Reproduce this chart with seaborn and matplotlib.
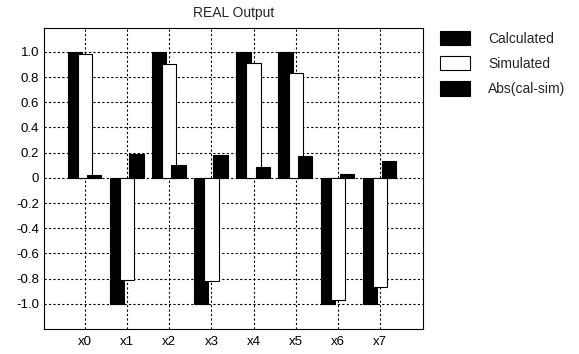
import matplotlib
matplotlib.use("Agg")
import matplotlib.pyplot as plt
import seaborn as sns
import pandas as pd

# values
inputs = ["x0", "x1", "x2", "x3", "x4", "x5", "x6", "x7"]
calculated = [1.0, -1.0, 1.0, -1.0, 1.0, 1.0, -1.0, -1.0]
simulated = [0.98, -0.81, 0.90, -0.82, 0.91, 0.83, -0.97, -0.87]
abs_diff = [0.02, 0.19, 0.10, 0.18, 0.09, 0.17, 0.03, 0.13]
series_names = ["Calculated", "Simulated", "Abs(cal-sim)"]

df = pd.DataFrame({
    "input": inputs * 3,
    "value": calculated + simulated + abs_diff,
    "series": [s for s in series_names for _ in inputs],
})

sns.set_style("white")
plt.rcParams["font.family"] = ["Liberation Sans", "DejaVu Sans"]

fig = plt.figure(figsize=(5.79, 3.54), dpi=100)
ax = fig.add_axes([0.076, 0.0706, 0.6546, 0.8504])

sns.barplot(data=df, x="input", y="value", hue="series", hue_order=series_names,
            palette=["black", "white", "black"], edgecolor="black", linewidth=0.8,
            width=0.8, saturation=1, ax=ax, errorbar=None)

# overlapping bars, like the original plot
offsets = [-0.24, 0.0, 0.22]
bar_w = 0.34
for i, cont in enumerate(ax.containers):
    for bar in cont:
        center = bar.get_x() + bar.get_width() / 2
        grp = round(center)
        bar.set_x(grp + offsets[i] - bar_w / 2)
        bar.set_width(bar_w)
        bar.set_zorder(2 + i)

ax.set_xlim(-0.97, 8.02)
ax.set_ylim(-1.2, 1.19)
yt = [-1.0, -0.8, -0.6, -0.4, -0.2, 0, 0.2, 0.4, 0.6, 0.8, 1.0]
ax.set_yticks(yt)
ax.set_yticklabels(["-1.0", "-0.8", "-0.6", "-0.4", "-0.2", "0", "0.2", "0.4", "0.6", "0.8", "1.0"])
ax.tick_params(axis="both", labelsize=9.5, length=2, direction="in", colors="black")
ax.tick_params(axis="x", pad=5)
ax.set_xlabel("")
ax.set_ylabel("")
ax.grid(True, linestyle=(0, (2, 2)), color="black", linewidth=0.8)
ax.set_axisbelow(True)
for sp in ax.spines.values():
    sp.set_color("black")
    sp.set_linewidth(0.8)
ax.set_title("REAL Output", fontsize=10, pad=8)

handles, labels = ax.get_legend_handles_labels()
ax.legend(handles, labels, loc="upper left", bbox_to_anchor=(1.045, 0.99),
          frameon=False, fontsize=10, handlelength=2.15, handleheight=1.2,
          labelspacing=0.75, handletextpad=1.3, borderpad=0, borderaxespad=0)

fig.savefig("out.png", dpi=100)
